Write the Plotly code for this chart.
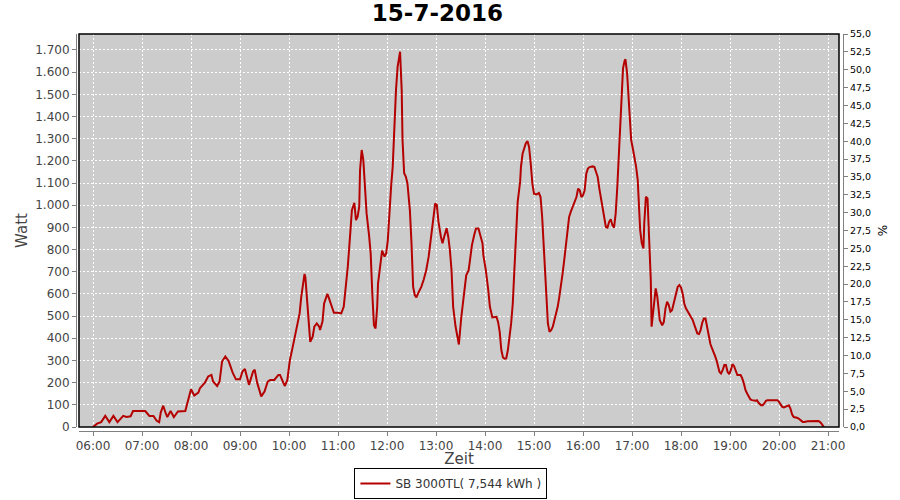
import plotly.graph_objects as go

DATUM = "2016-07-15"
TITEL = "15-7-2016"
SERIE = "SB 3000TL( 7,544 kWh )"

zeit = [
    "06:00", "06:05", "06:10", "06:15", "06:20", "06:25", "06:30", "06:37", "06:41", "06:46",
    "06:49", "07:04", "07:09", "07:14", "07:18", "07:21", "07:23", "07:26", "07:29", "07:31",
    "07:35", "07:39", "07:44", "07:53", "07:55", "08:00", "08:04", "08:09", "08:11", "08:17",
    "08:21", "08:25", "08:27", "08:32", "08:35", "08:38", "08:42", "08:46", "08:51", "08:55",
    "09:00", "09:03", "09:06", "09:11", "09:16", "09:18", "09:21", "09:26", "09:30", "09:34",
    "09:37", "09:42", "09:47", "09:49", "09:53", "09:55", "09:58",
    "10:01", "10:05", "10:09", "10:13", "10:15", "10:18", "10:19", "10:20", "10:22", "10:24",
    "10:26", "10:29", "10:31", "10:34", "10:37", "10:38", "10:41", "10:43", "10:47", "10:49",
    "10:52", "10:55", "11:00", "11:04", "11:07", "11:09", "11:12", "11:15", "11:17", "11:20",
    "11:22", "11:24", "11:26", "11:27", "11:29", "11:31", "11:33", "11:35", "11:38", "11:40",
    "11:42", "11:44", "11:46", "11:48", "11:49", "11:52", "11:54", "11:57", "11:59", "12:01",
    "12:03", "12:05", "12:07", "12:09", "12:11", "12:13", "12:15", "12:16", "12:18", "12:19",
    "12:21", "12:23", "12:25", "12:28", "12:30", "12:32", "12:34", "12:36", "12:39", "12:42",
    "12:45", "12:48", "12:51", "12:54", "12:57", "12:59", "13:01", "13:03", "13:06", "13:08",
    "13:10", "13:13", "13:15", "13:17", "13:19", "13:21", "13:24", "13:27", "13:28",
    "13:31", "13:33", "13:35", "13:37", "13:40", "13:42", "13:44", "13:47", "13:49", "13:52",
    "13:54", "13:57", "13:58", "14:01", "14:04", "14:06", "14:09", "14:12", "14:14", "14:16",
    "14:18", "14:20", "14:22", "14:24", "14:26", "14:28", "14:30", "14:32", "14:34", "14:36",
    "14:38", "14:40", "14:43", "14:44", "14:46", "14:48", "14:50", "14:52", "14:54", "14:56",
    "14:58", "15:00", "15:03", "15:06", "15:08", "15:10", "15:12", "15:13", "15:15", "15:17",
    "15:19", "15:21", "15:23", "15:25", "15:27", "15:29", "15:31", "15:33", "15:35", "15:37",
    "15:39", "15:41", "15:43", "15:45", "15:47", "15:50", "15:52", "15:54", "15:56", "15:58",
    "16:00", "16:02", "16:04", "16:06", "16:08", "16:12", "16:14", "16:16", "16:18", "16:20",
    "16:22", "16:24", "16:26", "16:28", "16:30", "16:32", "16:34", "16:36", "16:38", "16:40",
    "16:42", "16:44", "16:46", "16:48", "16:49", "16:51", "16:52", "16:54", "16:56", "16:57",
    "16:59", "17:01", "17:03", "17:05", "17:07", "17:09", "17:10", "17:12", "17:14", "17:15",
    "17:17", "17:19", "17:20", "17:22", "17:23", "17:24", "17:26", "17:28", "17:29", "17:31",
    "17:32", "17:34", "17:37", "17:39", "17:41", "17:43", "17:45", "17:47", "17:49", "17:51",
    "17:54", "17:56", "17:58", "18:00", "18:02", "18:04", "18:06", "18:08", "18:10", "18:12",
    "18:14", "18:16", "18:18", "18:20", "18:22", "18:24", "18:26", "18:28", "18:30", "18:32",
    "18:34", "18:36", "18:38", "18:40", "18:42", "18:44", "18:47", "18:49", "18:51", "18:53",
    "18:55", "18:57", "18:59", "19:01", "19:03", "19:05", "19:07", "19:09", "19:13", "19:15",
    "19:17", "19:19", "19:21", "19:23", "19:25", "19:27", "19:31", "19:33", "19:35", "19:38",
    "19:40", "19:42", "19:44", "19:46", "19:58", "20:00", "20:02", "20:04", "20:06", "20:08",
    "20:10", "20:12", "20:14", "20:16", "20:18", "20:20", "20:22", "20:24", "20:27", "20:29",
    "20:31", "20:35", "20:48", "20:50", "20:52", "20:54", "20:55",
]

watt = [
    0, 15, 22, 50, 22, 50, 22, 50, 45, 48,
    72, 72, 50, 50, 28, 22, 66, 96, 62, 45,
    72, 45, 70, 72, 100, 170, 142, 155, 175, 200,
    228, 235, 205, 185, 205, 295, 318, 298, 245, 215,
    215, 250, 262, 190, 250, 258, 200, 138, 160, 205,
    212, 212, 235, 235, 200, 185, 212,
    300, 369, 449, 512, 587, 683, 690, 677, 572, 467,
    384, 407, 452, 467, 452, 437, 475, 557, 600, 580,
    542, 515, 515, 512, 542, 610, 723, 873, 978, 1011,
    933, 948, 993, 1159, 1249, 1204, 1083, 963, 865, 783,
    602, 459, 444, 542, 647, 738, 795, 768, 783, 843,
    993, 1083, 1174, 1369, 1519, 1625, 1685, 1692, 1519, 1294,
    1144, 1129, 1099, 978, 828, 632, 595, 584, 610, 632,
    665, 707, 768, 858, 956, 1008, 1001, 926, 858, 828,
    858, 896, 858, 798, 707, 542, 452, 377, 372,
    497, 557, 639, 684, 707, 767, 820, 869, 895, 895,
    865, 827, 774, 707, 617, 542, 494, 494, 497, 474,
    429, 347, 314, 308, 309, 347, 399, 467, 557, 707,
    872, 1015, 1105, 1172, 1232, 1262, 1280, 1289, 1262, 1187,
    1097, 1052, 1049, 1055, 1037, 947, 812, 692, 572, 467,
    429, 437, 452, 482, 519, 542, 587, 632, 692, 752,
    827, 902, 947, 970, 992, 1015, 1037, 1075, 1067, 1037,
    1045, 1067, 1142, 1165, 1172, 1175, 1172, 1150, 1127, 1075,
    1030, 1000, 940, 902, 899, 925, 937, 910, 899, 962,
    1082, 1220, 1354, 1520, 1617, 1652, 1658, 1595, 1489, 1429,
    1294, 1256, 1219, 1174, 1114, 993, 888, 828, 805, 918,
    1038, 1031, 933, 798, 662, 452, 527, 587, 625, 587,
    542, 482, 459, 474, 535, 565, 550, 520, 527, 557,
    610, 632, 640, 629, 602, 557, 535, 520, 512, 497,
    485, 467, 444, 422, 419, 437, 470, 489, 489, 452,
    407, 374, 354, 339, 317, 294, 249, 241, 256, 279,
    279, 249, 238, 256, 283, 274, 249, 234, 234, 219,
    196, 166, 151, 136, 124, 121, 118, 121, 109, 98,
    98, 106, 118, 121, 121, 113, 103, 91, 88, 91,
    97, 98, 83, 57, 45, 45, 42, 38, 27, 23,
    23, 26, 27, 23, 15, 3, 0,
]

x_range = ["05:42:51", "21:13:28"]
watt_range = [0, 1772]
prozent_range = [0, 55]

x_werte = [f"{DATUM} {t}" for t in zeit]

FONT = "DejaVu Sans"
GRAU = "#808080"

fig = go.Figure()
fig.add_trace(go.Scatter(
    x=x_werte, y=watt, mode="lines", name=SERIE,
    line=dict(color="#b40000", width=2),
    showlegend=True,
))
# invisible helper so the right-hand percentage axis is drawn
fig.add_trace(go.Scatter(
    x=[x_werte[0]], y=[0], yaxis="y2", mode="lines",
    line=dict(width=0), showlegend=False, hoverinfo="skip",
))

L, R, T, B = 76, 57, 34, 69
pw = 900 - L - R
ph = 500 - T - B

fig.update_layout(
    width=900, height=500,
    margin=dict(l=L, r=R, t=T, b=B, pad=0, autoexpand=False),
    paper_bgcolor="white",
    plot_bgcolor="#cccccc",
    separators=",.",
    font=dict(family=FONT, size=12, color="#444444"),
    title=dict(
        text=f"<b>{TITEL}</b>", x=0.486, xref="container", xanchor="center",
        y=0.99, yref="container", yanchor="top",
        font=dict(family=FONT, size=23, color="#000000"),
    ),
    xaxis=dict(
        type="date",
        domain=[3 / pw, 1 - 4 / pw],
        range=[f"{DATUM} {x_range[0]}", f"{DATUM} {x_range[1]}"],
        tick0=f"{DATUM} 06:00", dtick=3600000, tickformat="%H:%M",
        anchor="free", position=0, automargin=False,
        showline=True, linecolor=GRAU, linewidth=1,
        ticks="outside", ticklen=4, tickcolor=GRAU,
        showgrid=True, gridcolor="white", gridwidth=1, griddash="2px,2px",
        zeroline=False,
        tickfont=dict(size=12, color="#444444"),
        title=dict(text="Zeit", font=dict(size=15, color="#444444"), standoff=3),
    ),
    yaxis=dict(
        domain=[4 / ph, 1],
        range=watt_range, dtick=100, tickformat=",d",
        anchor="free", position=0, automargin=False,
        showline=True, linecolor=GRAU, linewidth=1,
        ticks="outside", ticklen=4, tickcolor=GRAU,
        showgrid=True, gridcolor="white", gridwidth=1, griddash="2px,2px",
        zeroline=False,
        tickfont=dict(size=12, color="#444444"),
        title=dict(text="Watt", font=dict(size=15, color="#444444"), standoff=2),
    ),
    yaxis2=dict(
        overlaying="y", side="right",
        range=prozent_range, dtick=2.5, tickformat=".1f",
        anchor="free", position=1, automargin=False,
        showline=True, linecolor=GRAU, linewidth=1,
        ticks="outside", ticklen=4, tickcolor=GRAU,
        showgrid=False, zeroline=False,
        tickfont=dict(size=9.5, color="#000000"),
        title=dict(text="%", font=dict(size=12, color="#000000"), standoff=8),
    ),
    legend=dict(
        orientation="h", xref="container", yref="container",
        x=0.501, xanchor="center", y=0.002, yanchor="bottom",
        bordercolor="#000000", borderwidth=1, bgcolor="white",
        font=dict(size=12, color="#333333"),
        itemwidth=30,
    ),
    shapes=[
        dict(type="rect", xref="x domain", yref="y domain", x0=0, x1=1, y0=0, y1=1,
             line=dict(color="#000000", width=1.5), fillcolor="rgba(0,0,0,0)", layer="above"),
    ],
)

fig.write_html(
    "out.html",
    config={"displayModeBar": False},
    post_script="document.body.style.margin='0';document.body.style.overflow='hidden';",
)
